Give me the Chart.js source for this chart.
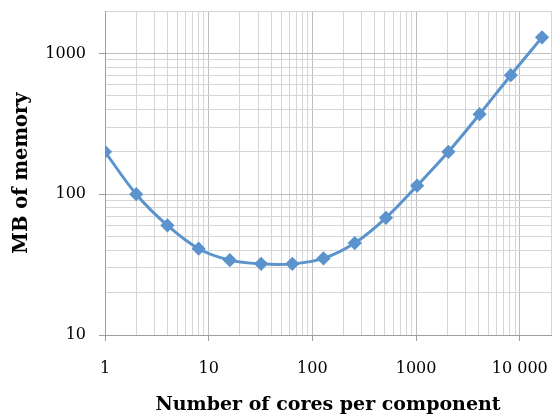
<!DOCTYPE html>
<html>
<head>
<meta charset="utf-8">
<script src="https://cdn.jsdelivr.net/npm/chart.js@4"></script>
<style>
  html, body { margin: 0; padding: 0; background: #fff; }
  #wrap { width: 552px; height: 418px; }
</style>
</head>
<body>
<div id="wrap"><canvas id="grafico" width="552" height="418"></canvas></div>
<script>
// Dados
const cores = [1, 2, 4, 8, 16, 32, 64, 128, 256, 512, 1024, 2048, 4096, 8192, 16384];
const memoria = [200, 100, 60, 41, 34, 32, 32, 35, 45, 68, 115, 200, 370, 700, 1300];
const xTickLabels = { 1: "1", 10: "10", 100: "100", 1000: "1000", 10000: "10 000" };
const yTickLabels = { 10: "10", 100: "100", 1000: "1000" };

const serif = "'DejaVu Serif', serif";
const azul = "#5B93CD";

// ticks 1..9 x 10^k entre min e max
function ticksLog(min, max) {
  const out = [];
  for (let p = 1; p <= max; p *= 10) {
    for (let m = 1; m <= 9; m++) {
      const v = m * p;
      if (v >= min && v <= max) out.push({ value: v });
    }
  }
  return out;
}
const potencia = v => Math.abs(Math.log10(v) - Math.round(Math.log10(v))) < 1e-9;

new Chart(document.getElementById("grafico"), {
  type: "line",
  data: {
    datasets: [{
      data: cores.map((c, i) => ({ x: c, y: memoria[i] })),
      borderColor: azul,
      backgroundColor: azul,
      borderWidth: 3,
      pointStyle: "rectRot",
      pointRadius: 5,
      pointHoverRadius: 5,
      tension: 0.35,
      fill: false
    }]
  },
  options: {
    responsive: false,
    animation: false,
    layout: { autoPadding: false, padding: { top: 11, right: 1, left: 0, bottom: 0 } },
    plugins: { legend: { display: false }, tooltip: { enabled: false } },
    scales: {
      x: {
        type: "logarithmic",
        min: 1,
        max: 20000,
        afterBuildTicks: s => { s.ticks = ticksLog(1, 20000); },
        afterFit: s => { s.height = 83; s.paddingLeft = 0; s.paddingRight = 0; },
        ticks: {
          autoSkip: false,
          maxRotation: 0,
          padding: 18,
          color: "#000",
          font: { family: serif, size: 16 },
          callback: v => xTickLabels[v] || ""
        },
        grid: {
          color: ctx => potencia(ctx.tick.value) ? "#BDBDBD" : "#D6D6D6",
          tickColor: ctx => potencia(ctx.tick.value) ? "#9E9E9E" : "rgba(0,0,0,0)",
          tickLength: 6,
          lineWidth: 1
        },
        border: { color: "#9E9E9E" },
        title: {
          display: true,
          text: "Number of cores per component",
          color: "#000",
          font: { family: serif, size: 19, weight: "bold" },
          padding: { top: 10, bottom: 2 }
        }
      },
      y: {
        type: "logarithmic",
        min: 10,
        max: 2000,
        afterBuildTicks: s => { s.ticks = ticksLog(10, 2000); },
        afterFit: s => { s.width = 105; s.paddingTop = 0; s.paddingBottom = 0; },
        ticks: {
          autoSkip: false,
          padding: 13,
          color: "#000",
          font: { family: serif, size: 16 },
          callback: v => yTickLabels[v] || ""
        },
        grid: {
          color: ctx => potencia(ctx.tick.value) ? "#BDBDBD" : "#D6D6D6",
          tickColor: ctx => potencia(ctx.tick.value) ? "#9E9E9E" : "rgba(0,0,0,0)",
          tickLength: 6,
          lineWidth: 1
        },
        border: { color: "#9E9E9E" },
        title: {
          display: true,
          text: "MB of memory",
          color: "#000",
          font: { family: serif, size: 19.5, weight: "bold" },
          padding: { top: 10, bottom: 0 }
        }
      }
    }
  }
});
</script>
</body>
</html>
